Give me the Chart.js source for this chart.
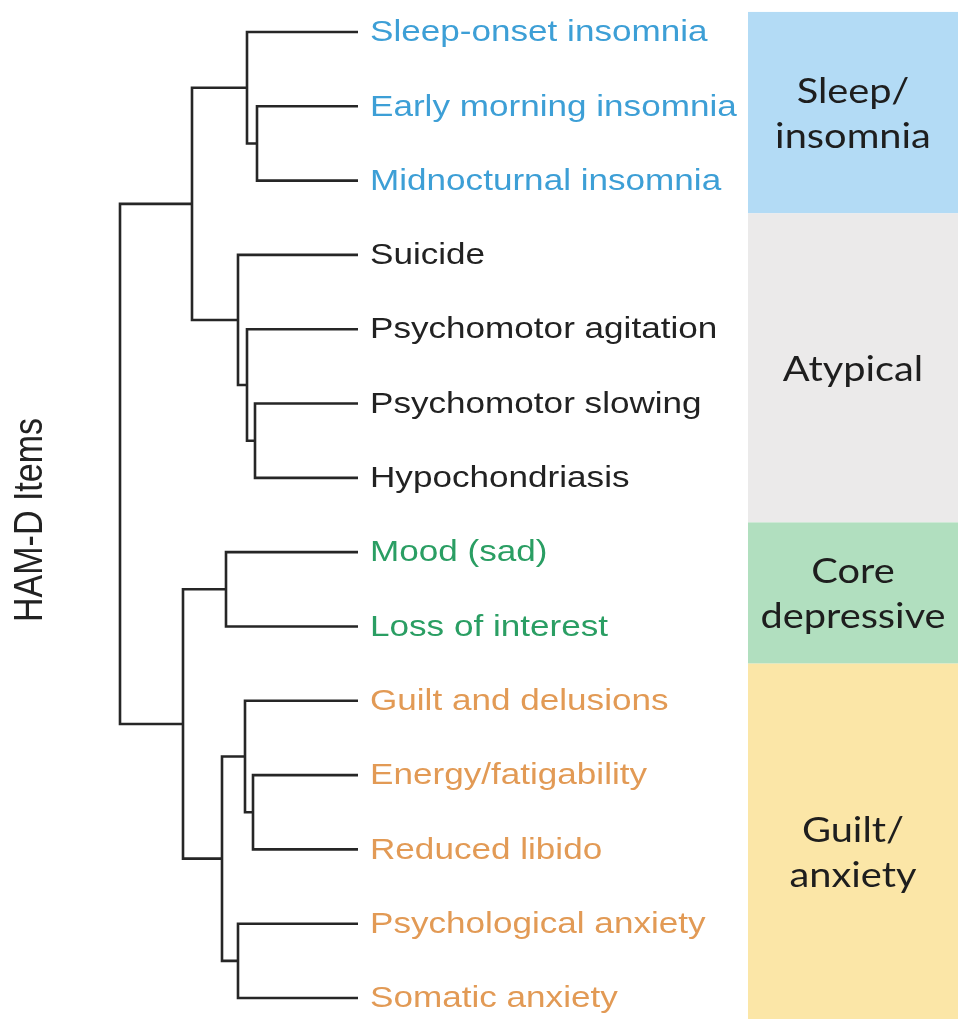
<!DOCTYPE html>
<html>
<head>
<meta charset="utf-8">
<script src="https://cdn.jsdelivr.net/npm/chart.js@4.4.1/dist/chart.umd.min.js"></script>
<style>
  html, body { margin: 0; padding: 0; background: #ffffff; }
  #wrap { width: 958px; height: 1019px; position: relative; }
</style>
</head>
<body>
<div id="wrap"><canvas id="grafica"></canvas></div>
<script>
// leaves of the dendrogram, top to bottom
const items = ['Sleep-onset insomnia', 'Early morning insomnia', 'Midnocturnal insomnia',
  'Suicide', 'Psychomotor agitation', 'Psychomotor slowing', 'Hypochondriasis',
  'Mood (sad)', 'Loss of interest',
  'Guilt and delusions', 'Energy/fatigability', 'Reduced libido',
  'Psychological anxiety', 'Somatic anxiety'];
const itemCluster = [0, 0, 0, 1, 1, 1, 1, 2, 2, 3, 3, 3, 3, 3];

// merges: child a, child b (leaf index or node id 14+), linkage height
const mergeA = [1, 0, 5, 4, 3, 15, 7, 10, 9, 12, 22, 20, 19];
const mergeB = [2, 14, 6, 16, 17, 18, 8, 11, 21, 13, 23, 24, 25];
const mergeHeight = [1.01, 1.11, 1.03, 1.11, 1.20, 1.66, 1.32, 1.05, 1.13, 1.20, 1.36, 1.75, 2.38];

// clusters shown in the coloured column
const clusterNames = [['Sleep/', 'insomnia'], ['Atypical'], ['Core', 'depressive'], ['Guilt/', 'anxiety']];
const clusterEdges = [-0.27, 2.44, 6.6, 8.5, 13.3];

const textColors = ['#3d9fd6', '#222222', '#2a9e63', '#e29a55'];
const bandColors = ['#b3dbf5', '#ebeaea', '#b1dfbf', '#fbe6a7'];

// build node positions
const nodeX = items.map(() => 0);
const nodeY = items.map((_, i) => i);
const datasets = [];
for (let k = 0; k < mergeA.length; k++) {
  const a = mergeA[k], b = mergeB[k], h = mergeHeight[k];
  datasets.push({
    data: [
      { x: nodeX[a], y: nodeY[a] },
      { x: h, y: nodeY[a] },
      { x: h, y: nodeY[b] },
      { x: nodeX[b], y: nodeY[b] }
    ],
    borderColor: '#262626',
    borderWidth: 2.6,
    pointRadius: 0,
    tension: 0,
    fill: false,
    clip: false,
    borderJoinStyle: 'miter'
  });
  nodeX.push(h);
  nodeY.push((nodeY[a] + nodeY[b]) / 2);
}

const stretch = 1.17;

const decoraciones = {
  id: 'decoraciones',
  beforeDatasetsDraw(chart) {
    const ctx = chart.ctx, ys = chart.scales.y;
    ctx.save();
    for (let g = 0; g < clusterNames.length; g++) {
      const top = ys.getPixelForValue(clusterEdges[g]);
      const bot = ys.getPixelForValue(clusterEdges[g + 1]);
      ctx.fillStyle = bandColors[g];
      ctx.fillRect(748, top, 958 - 748, bot - top);
      const lines = clusterNames[g];
      const mid = (top + bot) / 2 + (g === 3 ? 12 : 2);
      ctx.fillStyle = '#1e1e1e';
      ctx.font = '34px Lato';
      ctx.textAlign = 'center';
      ctx.textBaseline = 'middle';
      lines.forEach((t, j) => {
        const y = mid + (j - (lines.length - 1) / 2) * 45;
        ctx.save();
        ctx.translate(853, y);
        ctx.scale(stretch, 1);
        ctx.fillText(t, 0, 0);
        ctx.restore();
      });
    }
    ctx.restore();
  },
  afterDatasetsDraw(chart) {
    const ctx = chart.ctx, xs = chart.scales.x, ys = chart.scales.y;
    ctx.save();
    ctx.font = '30px "Liberation Sans"';
    ctx.textAlign = 'left';
    ctx.textBaseline = 'middle';
    items.forEach((t, i) => {
      ctx.fillStyle = textColors[itemCluster[i]];
      ctx.save();
      ctx.translate(xs.getPixelForValue(0) + 12, ys.getPixelForValue(i) + 1);
      ctx.scale(stretch, 1);
      ctx.fillText(t, 0, 0);
      ctx.restore();
    });
    // axis title
    ctx.fillStyle = '#222222';
    ctx.font = '34px "Liberation Sans"';
    ctx.textAlign = 'center';
    ctx.translate(31, 520);
    ctx.scale(stretch, 1);
    ctx.rotate(-Math.PI / 2);
    ctx.fillText('HAM-D Items', 0, 0);
    ctx.restore();
  }
};

new Chart(document.getElementById('grafica'), {
  type: 'line',
  data: { datasets: datasets },
  options: {
    responsive: true,
    maintainAspectRatio: false,
    animation: false,
    layout: { padding: { left: 120, right: 600, top: 32, bottom: 21 } },
    scales: {
      x: { type: 'linear', min: 0, max: 2.38, reverse: true, display: false },
      y: { type: 'linear', min: 0, max: 13, reverse: true, display: false }
    },
    plugins: {
      legend: { display: false },
      tooltip: { enabled: false }
    }
  },
  plugins: [decoraciones]
});
</script>
</body>
</html>
